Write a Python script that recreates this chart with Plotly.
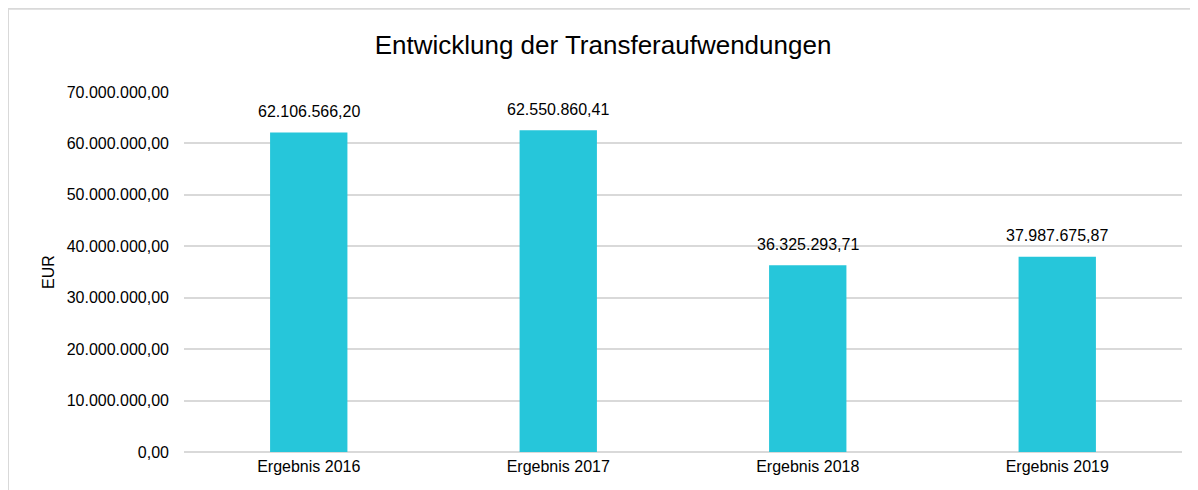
import plotly.graph_objects as go

categories = ["Ergebnis 2016", "Ergebnis 2017", "Ergebnis 2018", "Ergebnis 2019"]
values = [62106566.20, 62550860.41, 36325293.71, 37987675.87]
tick_vals = [0, 10000000, 20000000, 30000000, 40000000, 50000000, 60000000, 70000000]

font_family = "Liberation Sans, Arial, sans-serif"


def de_format(v):
    s = f"{v:,.2f}"
    return s.replace(",", "X").replace(".", ",").replace("X", ".")


fig = go.Figure(go.Bar(
    x=categories,
    y=values,
    marker=dict(color="#26C6DA", line=dict(width=0)),
    hoverinfo="skip",
))

annotations = [
    dict(x=c, y=v, xref="x", yref="y", text=de_format(v), showarrow=False,
         yanchor="middle", yshift=21,
         font=dict(size=16, color="#000000", family=font_family))
    for c, v in zip(categories, values)
]

fig.update_layout(
    width=1190, height=482,
    separators=",.",
    paper_bgcolor="white", plot_bgcolor="white",
    margin=dict(l=176, r=16, t=84, b=38, pad=0),
    bargap=0.69,
    showlegend=False,
    title=dict(text="Entwicklung der Transferaufwendungen", x=0.5, xanchor="center",
               y=1 - 37 / 482, yanchor="middle",
               font=dict(size=26, color="#000000", family=font_family)),
    font=dict(family=font_family, color="#000000"),
    xaxis=dict(showgrid=False, showline=False, ticks="", ticklabelstandoff=3,
               tickfont=dict(size=16, color="#000000")),
    yaxis=dict(range=[0, 70000000], tickvals=tick_vals, tickformat=",.2f",
               showgrid=True, gridcolor="#D9D9D9", gridwidth=1.5,
               zeroline=True, zerolinecolor="#D9D9D9", zerolinewidth=1.5,
               showline=False, ticks="", ticklabelstandoff=14,
               tickfont=dict(size=16, color="#000000"),
               title=dict(text="EUR", font=dict(size=16, color="#000000"), standoff=8)),
    annotations=annotations,
    shapes=[dict(type="rect", xref="paper", yref="paper",
                 x0=-176 / 998, x1=1.05, y0=-0.2, y1=1 + 83 / 359,
                 line=dict(color="#D9D9D9", width=2), fillcolor="rgba(0,0,0,0)",
                 layer="below")],
)

fig.write_html("out.html")
